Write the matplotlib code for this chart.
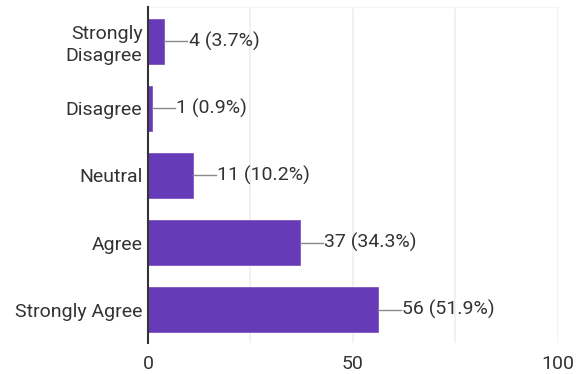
import numpy as np
import matplotlib
matplotlib.use('Agg')
from matplotlib import pyplot as plt

plt.rcParams['font.family'] = ['Roboto', 'DejaVu Sans']

categories = ['Strongly\nDisagree', 'Disagree', 'Neutral', 'Agree', 'Strongly Agree']
counts = [4, 1, 11, 37, 56]
percents = [3.7, 0.9, 10.2, 34.3, 51.9]
xticks = [0, 50, 100]

bar_color = '#673ab7'
text_color = '#333333'

fig = plt.figure(figsize=(5.79, 3.74), dpi=100)
ax = fig.add_axes([0.2556, 0.0816, 0.7081, 0.8984])

ypos = np.arange(len(categories))
ax.barh(ypos, counts, height=0.67, color=bar_color, edgecolor='#7e57c2',
        lw=0.6, zorder=3)

# leader line plus "count (pct%)" label to the right of each bar
for y, c, p in zip(ypos, counts, percents):
    ax.plot([c, c + 5.6], [y, y], color='#8a8a8a', lw=1.0, zorder=3)
    ax.text(c + 5.9, y, '%d (%.1f%%)' % (c, p), va='center', ha='left',
            fontsize=14, color=text_color)

ax.set_xlim(0, 100)
ax.set_ylim(len(categories) - 0.5, -0.5)
ax.set_yticks(ypos)
ax.set_yticklabels(categories, fontsize=14, color=text_color, linespacing=1.3)
ax.set_xticks(xticks)
ax.set_xticklabels([str(t) for t in xticks], fontsize=14, color=text_color)
ax.set_xticks([25, 75], minor=True)
ax.tick_params(axis='both', length=0, pad=4)
ax.tick_params(axis='x', which='minor', length=0)
ax.tick_params(axis='x', pad=8)
ax.xaxis.grid(True, which='both', color='#efefef', lw=1.2, zorder=0)

for s in ['right', 'bottom']:
    ax.spines[s].set_visible(False)
ax.spines['top'].set_color('#f3f3f3')
ax.spines['left'].set_color('#333333')
ax.spines['left'].set_linewidth(1.5)
ax.spines['left'].set_zorder(4)

plt.savefig('out.png', dpi=100)
